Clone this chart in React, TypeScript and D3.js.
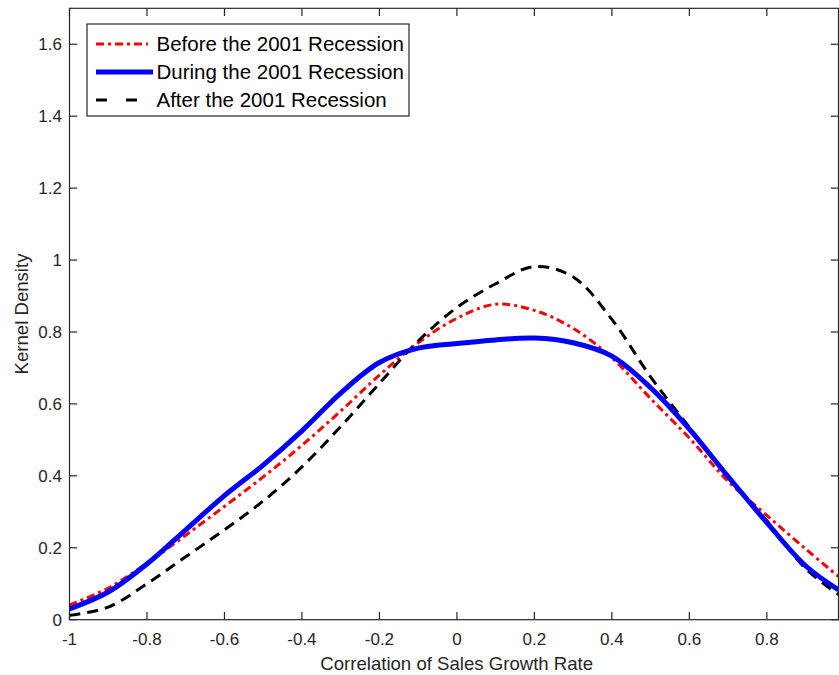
import React from 'react';
import * as d3 from 'd3';

// sample points along the correlation axis
const xs = [-1, -0.9, -0.8, -0.7, -0.6, -0.5, -0.4, -0.3, -0.2, -0.1, 0, 0.1, 0.2, 0.3, 0.4, 0.5, 0.6, 0.7, 0.8, 0.9, 0.985];

// kernel density estimates
const before = [0.041, 0.088, 0.157, 0.235, 0.315, 0.397, 0.485, 0.58, 0.68, 0.77, 0.838, 0.877, 0.86, 0.81, 0.728, 0.615, 0.505, 0.385, 0.29, 0.197, 0.12];
const during = [0.03, 0.077, 0.155, 0.25, 0.345, 0.43, 0.525, 0.63, 0.715, 0.755, 0.768, 0.778, 0.783, 0.77, 0.733, 0.645, 0.53, 0.398, 0.27, 0.15, 0.083];
const after = [0.012, 0.035, 0.1, 0.175, 0.25, 0.33, 0.425, 0.537, 0.657, 0.775, 0.868, 0.934, 0.982, 0.953, 0.835, 0.675, 0.535, 0.4, 0.275, 0.142, 0.07];

const xTicks = [-1, -0.8, -0.6, -0.4, -0.2, 0, 0.2, 0.4, 0.6, 0.8];
const yTicks = [0, 0.2, 0.4, 0.6, 0.8, 1, 1.2, 1.4, 1.6];

const seriesNames = ['Before the 2001 Recession', 'During the 2001 Recession', 'After the 2001 Recession'];

const W = 839;
const H = 675;
const left = 69.5;
const right = 838.5;
const top = 8.3;
const bottom = 619.7;
const axisColor = '#262626';
const font = '"Liberation Sans", Arial, Helvetica, sans-serif';

const App = () => {
  const x = d3.scaleLinear().domain([-1, 0.985]).range([left, right]);
  const y = d3.scaleLinear().domain([0, 1.7]).range([bottom, top]);

  const line = d3
    .line<number>()
    .x((d, i) => x(xs[i]))
    .y(d => y(d))
    .curve(d3.curveCatmullRom.alpha(0.5));

  // line styles for each series (MATLAB style)
  const styles = [
    { data: before, color: '#ff0000', width: 3, dash: '8,4,3,4' },
    { data: during, color: '#0000ff', width: 5, dash: null },
    { data: after, color: '#000000', width: 3, dash: '11,7' },
  ];

  const tickLen = 7.7;

  return (
    <svg width={W} height={H} style={{ position: 'absolute', left: 0, top: 0, background: '#fff' }}>
      <defs>
        <clipPath id="plotArea">
          <rect x={left} y={top} width={right - left} height={bottom - top} />
        </clipPath>
      </defs>
      <rect x={0} y={0} width={W} height={H} fill="#fff" />

      {/* curves */}
      <g clipPath="url(#plotArea)">
        {[styles[0], styles[2], styles[1]].map((s, i) => (
          <path
            key={i}
            d={line(s.data) || ''}
            fill="none"
            stroke={s.color}
            strokeWidth={s.width}
            strokeDasharray={s.dash || undefined}
            strokeLinejoin="round"
          />
        ))}
      </g>

      {/* axes box */}
      <rect x={left} y={top} width={right - left} height={bottom - top} fill="none" stroke={axisColor} strokeWidth={1.2} />

      {/* x ticks */}
      {xTicks.map(t => (
        <g key={'x' + t}>
          <line x1={x(t)} x2={x(t)} y1={bottom} y2={bottom - tickLen} stroke={axisColor} strokeWidth={1.2} />
          <line x1={x(t)} x2={x(t)} y1={top} y2={top + tickLen} stroke={axisColor} strokeWidth={1.2} />
          <text x={x(t)} y={645} textAnchor="middle" fontFamily={font} fontSize={17} fill={axisColor}>
            {t}
          </text>
        </g>
      ))}

      {/* y ticks */}
      {yTicks.map(t => (
        <g key={'y' + t}>
          <line x1={left} x2={left + tickLen} y1={y(t)} y2={y(t)} stroke={axisColor} strokeWidth={1.2} />
          <line x1={right} x2={right - tickLen} y1={y(t)} y2={y(t)} stroke={axisColor} strokeWidth={1.2} />
          <text x={62} y={y(t) + 6} textAnchor="end" fontFamily={font} fontSize={17} fill={axisColor}>
            {t}
          </text>
        </g>
      ))}

      {/* axis labels */}
      <text x={456.7} y={670} textAnchor="middle" fontFamily={font} fontSize={18.6} fill={axisColor}>
        Correlation of Sales Growth Rate
      </text>
      <text
        transform={`translate(28.3, ${(top + bottom) / 2}) rotate(-90)`}
        textAnchor="middle"
        fontFamily={font}
        fontSize={18.6}
        fill={axisColor}
      >
        Kernel Density
      </text>

      {/* legend */}
      <g>
        <rect x={87} y={24} width={322} height={92} fill="#fff" stroke={axisColor} strokeWidth={1.2} />
        {styles.map((s, i) => (
          <g key={'lg' + i} transform={`translate(0, ${44 + i * 28})`}>
            <line
              x1={96}
              x2={s.dash ? 148 : 153}
              y1={0}
              y2={0}
              stroke={s.color}
              strokeWidth={s.width}
              strokeDasharray={s.dash ? (i === 2 ? '11,19' : s.dash) : undefined}
            />
            <text x={156.5} y={7.3} fontFamily={font} fontSize={20.5} fill="#000">
              {seriesNames[i]}
            </text>
          </g>
        ))}
      </g>
    </svg>
  );
};

export default App;
